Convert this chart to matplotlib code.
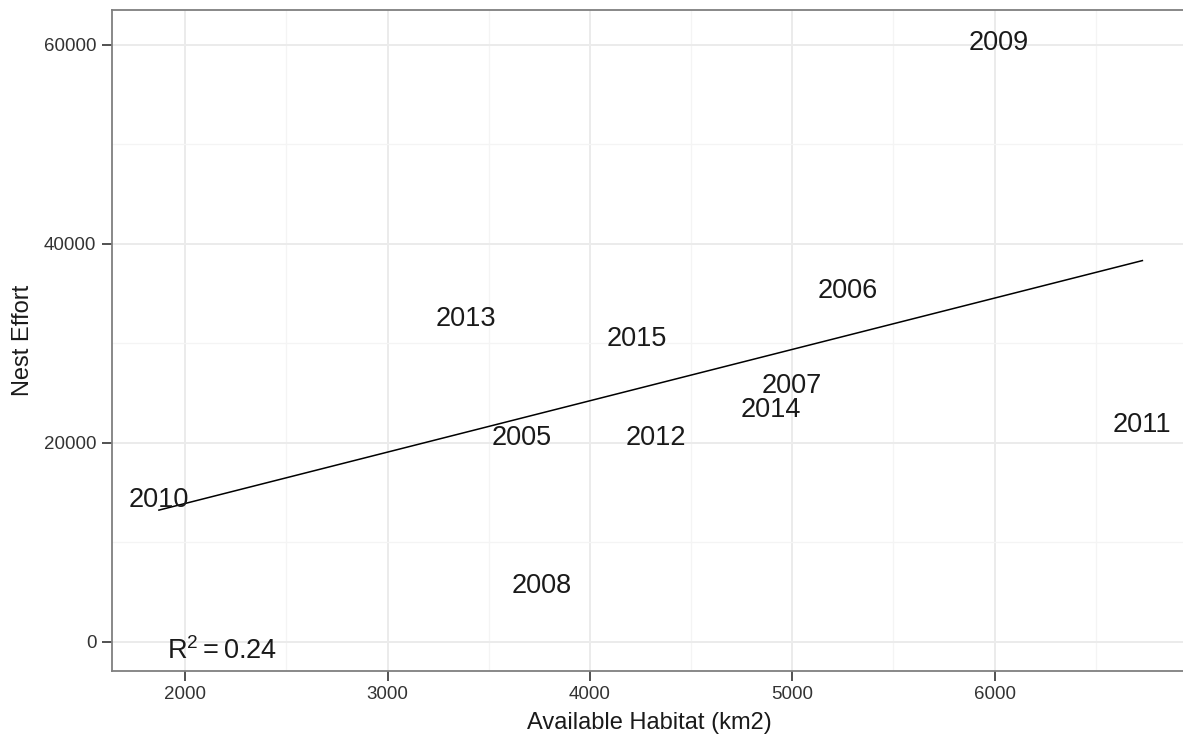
import matplotlib.pyplot as plt
import numpy as np
from matplotlib.ticker import MultipleLocator

plt.rcParams['font.family'] = ['Liberation Sans', 'DejaVu Sans']
plt.rcParams['mathtext.fontset'] = 'custom'
plt.rcParams['mathtext.rm'] = 'Liberation Sans'
plt.rcParams['mathtext.it'] = 'Liberation Sans'

years = ['2005', '2006', '2007', '2008', '2009', '2010', '2011', '2012', '2013', '2014', '2015']
habitat = [3661, 5275, 4998, 3760, 6018, 1870, 6730, 4325, 3387, 4892, 4233]
nest_effort = [20785, 35535, 25980, 5870, 60470, 14500, 22040, 20785, 32750, 23570, 30740]

x = np.array(habitat, dtype=float)
y = np.array(nest_effort, dtype=float)

# linear fit and r squared
slope, intercept = np.polyfit(x, y, 1)
pred = slope * x + intercept
r2 = 1 - np.sum((y - pred) ** 2) / np.sum((y - y.mean()) ** 2)

fig = plt.figure(figsize=(11.83, 7.4), dpi=100)
ax = fig.add_axes([0.0943, 0.0932, 0.909, 0.8933])

ax.set_xlim(1636, 6950)
ax.set_ylim(-2960, 63520)

ax.xaxis.set_major_locator(MultipleLocator(1000))
ax.xaxis.set_minor_locator(MultipleLocator(500))
ax.yaxis.set_major_locator(MultipleLocator(20000))
ax.yaxis.set_minor_locator(MultipleLocator(10000))
ax.grid(which='major', color='#EBEBEB', linewidth=1.4)
ax.grid(which='minor', color='#F4F4F4', linewidth=0.9)
ax.set_axisbelow(True)

xs = np.array([x.min(), x.max()])
ax.plot(xs, slope * xs + intercept, color='black', linewidth=1.1)

for yr, xi, yi in zip(years, habitat, nest_effort):
    ax.text(xi, yi, yr, fontsize=19.5, color='#1a1a1a', ha='center',
            va='center_baseline')

ax.text(1909, -1740, r'$\mathrm{R}^{2} = $' + '%.2f' % r2, fontsize=19.5,
        color='#1a1a1a', ha='left', va='baseline')

for s in ax.spines.values():
    s.set_color('#7F7F7F')
    s.set_linewidth(1.3)

ax.tick_params(which='major', length=7, width=1.2, color='#333333',
               labelsize=13.5, labelcolor='#333333', pad=4)
ax.tick_params(which='minor', length=0)

ax.set_xlabel('Available Habitat (km2)', fontsize=17, labelpad=6, color='#1a1a1a')
ax.set_ylabel('Nest Effort', fontsize=17, labelpad=7, color='#1a1a1a')

fig.savefig('out.png', dpi=100)
